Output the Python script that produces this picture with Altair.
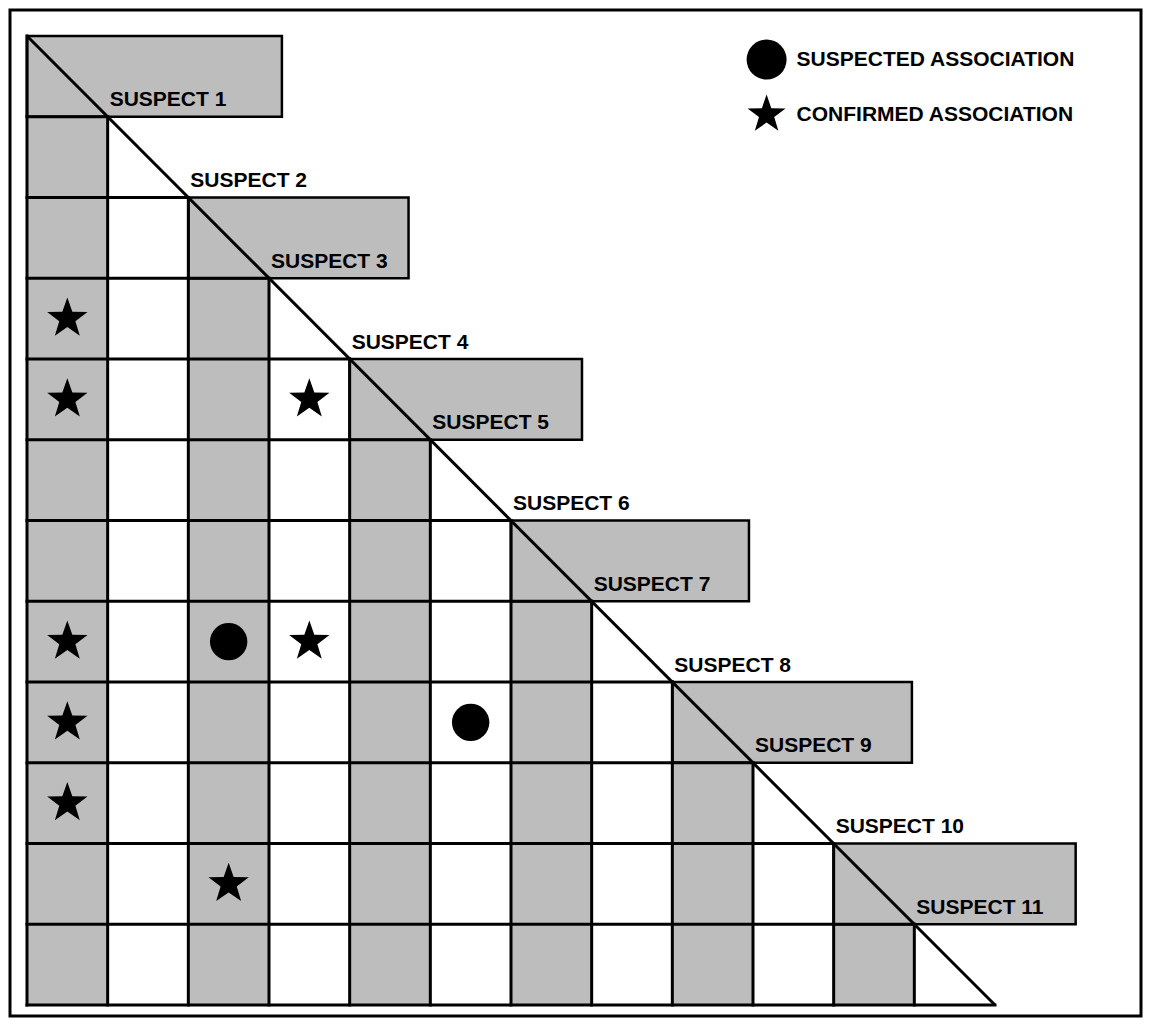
import altair as alt
import pandas as pd

# ---------------- data ----------------
N = 12                                   # grid is 12 x 12 cells
label_idx = list(range(1, 12))           # suspect i labelled at diagonal point i
label_txt = [f"SUSPECT {i}" for i in label_idx]
shaded_cols = [1, 3, 5, 7, 9, 11]        # grey columns (1-based)
box_end = [3.16, 4.73, 6.88, 8.95, 10.97, 13.0]  # right end of each label box

assoc_row = [4, 5, 8, 9, 10, 5, 8, 11, 8, 9]
assoc_col = [1, 1, 1, 1, 1, 4, 4, 3, 3, 6]
assoc_type = ["CONFIRMED ASSOCIATION"] * 8 + ["SUSPECTED ASSOCIATION"] * 2
legend_order = ["SUSPECTED ASSOCIATION", "CONFIRMED ASSOCIATION"]

# ---------------- styles ----------------
GREY = "#bdbdbd"
FONT = "Liberation Sans"
STAR = ("M0,-1L0.2351,-0.3236L0.9511,-0.309L0.3804,0.1236L0.5878,0.809L0,0.40"
        "L-0.5878,0.809L-0.3804,0.1236L-0.9511,-0.309L-0.2351,-0.3236Z")

W, H = 1131, 1006
xs = alt.Scale(domain=[-0.2107, 13.810], nice=False, zero=False)
ys = alt.Scale(domain=[-0.322, 12.136], nice=False, zero=False, reverse=True)


def X(f):
    return alt.X(f, type="quantitative", scale=xs, axis=None)


def Y(f):
    return alt.Y(f, type="quantitative", scale=ys, axis=None)


cols_df = pd.DataFrame({"x": [c - 1 for c in shaded_cols], "x2": shaded_cols,
                        "y": shaded_cols, "y2": [N] * len(shaded_cols)})
box_df = pd.DataFrame({"x": [c - 1 for c in shaded_cols], "x2": box_end,
                       "y": [c - 1 for c in shaded_cols], "y2": shaded_cols})
h_df = pd.DataFrame({"y": list(range(1, N + 1)), "x": [0] * N, "x2": list(range(1, N + 1))})
v_df = pd.DataFrame({"x": list(range(0, N)), "y": list(range(0, N)), "y2": [N] * N})
d_df = pd.DataFrame({"x": [0], "y": [0], "x2": [N], "y2": [N]})
lab_df = pd.DataFrame({"x": label_idx, "y": label_idx, "t": label_txt})
pts_df = pd.DataFrame({"r": assoc_row, "c": assoc_col, "type": assoc_type})

grey_cols = alt.Chart(cols_df).mark_rect(fill=GREY, strokeWidth=0).encode(
    x=X("x"), x2="x2", y=Y("y"), y2="y2")

boxes = alt.Chart(box_df).mark_rect(fill=GREY, stroke="black", strokeWidth=2.5).encode(
    x=X("x"), x2="x2", y=Y("y"), y2="y2")

hlines = alt.Chart(h_df).mark_rule(color="black", strokeWidth=3, strokeCap="square").encode(
    x=X("x"), x2="x2", y=Y("y"))

vlines = alt.Chart(v_df).mark_rule(color="black", strokeWidth=3, strokeCap="square").encode(
    x=X("x"), y=Y("y"), y2="y2")

diag = alt.Chart(d_df).mark_rule(color="black", strokeWidth=3).encode(
    x=X("x"), y=Y("y"), x2="x2", y2="y2")

labels = alt.Chart(lab_df).mark_text(
    align="left", baseline="alphabetic", dx=2, dy=-10.5,
    font=FONT, fontSize=21, fontWeight="bold", color="black").encode(
    x=X("x"), y=Y("y"), text="t:N")

shape_enc = alt.Shape(
    "type:N",
    scale=alt.Scale(domain=legend_order, range=["circle", STAR]),
    legend=alt.Legend(orient="none", legendX=736.6, legendY=29.6,
                      title=None, padding=0,
                      symbolSize=1600, symbolFillColor="black",
                      symbolStrokeWidth=0, symbolOpacity=1,
                      labelFont=FONT, labelFontSize=21,
                      labelFontWeight="bold", labelColor="black",
                      labelOffset=10, rowPadding=15, labelLimit=400))

base_pts = alt.Chart(pts_df).transform_calculate(
    cx="datum.c - 0.5", cy="datum.r - 0.5")

circles = base_pts.transform_filter(
    alt.datum.type == "SUSPECTED ASSOCIATION"
).mark_point(filled=True, color="black", opacity=1, strokeWidth=0, size=1400).encode(
    x=X("cx"), y=Y("cy"), shape=shape_enc)

stars = base_pts.transform_filter(
    alt.datum.type == "CONFIRMED ASSOCIATION"
).mark_point(filled=True, color="black", opacity=1, strokeWidth=0, size=1800).encode(
    x=X("cx"), y=Y("cy"), shape=shape_enc)

chart = alt.layer(grey_cols, boxes, hlines, vlines, diag, labels, circles, stars).properties(
    width=W, height=H,
    padding={"left": 2, "top": 2, "right": 2, "bottom": 2},
    autosize=alt.AutoSizeParams(type="none"),
    background="white",
).configure_view(stroke="black", strokeWidth=3)

chart.save("out.html", embed_options={"renderer": "svg", "actions": False})
